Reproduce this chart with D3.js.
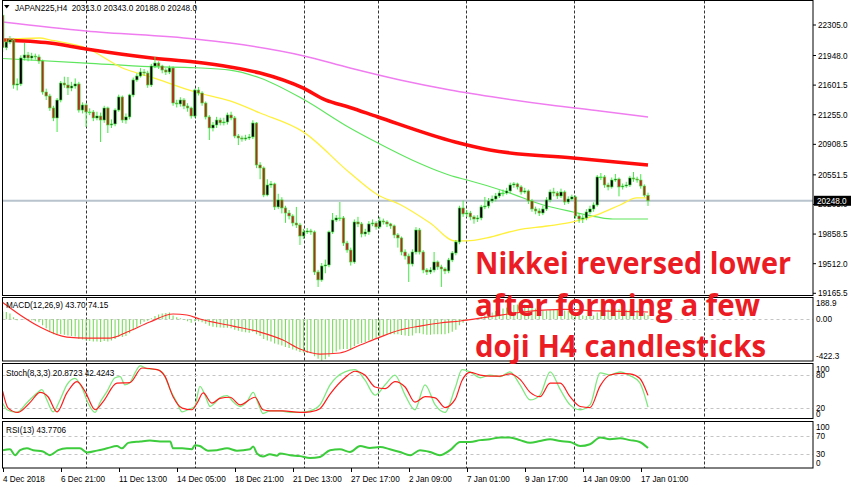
<!DOCTYPE html>
<html><head><meta charset="utf-8">
<script src="https://cdn.jsdelivr.net/npm/d3@7"></script>
<style>body{margin:0;background:#fff;}svg{display:block;}</style>
</head><body><svg id="c" width="852" height="485"></svg>
<script>
// ---------- DATA ----------
const symbolTitle = "JAPAN225,H4";
const lastOHLC = ["20313.0","20343.0","20188.0","20248.0"];
const closes=[22040,22106,22130,21603,21615,21919,21954,21919,21942,21931,
21884,21521,21474,21334,21217,21427,21626,21603,21568,21591,
21615,21310,21369,21287,21287,21217,21240,21193,21334,21135,
21147,21310,21463,21193,21229,21486,21662,21708,21755,21743,
21603,21825,21860,21825,21778,21755,21802,21392,21381,21427,
21357,21334,21240,21544,21509,21392,21229,21100,21135,21193,
21160,21170,21252,21217,21006,20983,20971,20983,20995,21158,
20667,20632,20316,20433,20445,20176,20258,20164,20105,20070,
19988,19965,19836,19883,19895,19883,19415,19322,19485,19497,
19883,20023,20047,20047,19754,19672,19532,20000,19977,19860,
19883,19977,19988,19942,20012,20000,19977,19954,19848,19813,
19649,19602,19509,19649,19906,19649,19438,19415,19438,19532,
19474,19450,19427,19555,19637,19766,20164,20094,20105,20059,
20035,20047,20176,20187,20246,20269,20304,20339,20339,20363,
20433,20445,20410,20351,20363,20246,20152,20129,20105,20152,
20258,20351,20339,20304,20351,20234,20269,20293,20070,20035,
20047,20117,20152,20199,20527,20527,20433,20410,20491,20503,
20410,20421,20433,20515,20503,20491,20421,20313,20248];
const opens=[22420,22040,22106,22130,21603,21615,21919,21954,21919,21942,
21931,21884,21521,21474,21334,21217,21427,21626,21603,21568,
21591,21615,21310,21369,21287,21287,21217,21240,21193,21334,
21135,21147,21310,21463,21193,21229,21486,21662,21708,21755,
21743,21603,21825,21860,21825,21778,21755,21802,21392,21381,
21427,21357,21334,21240,21544,21509,21392,21229,21100,21135,
21193,21160,21170,21252,21217,21006,20983,20971,20983,20995,
21158,20667,20632,20316,20433,20445,20176,20258,20164,20105,
20070,19988,19965,19836,19883,19895,19883,19415,19322,19485,
19497,19883,20023,20047,20047,19754,19672,19532,20000,19977,
19860,19883,19977,19988,19942,20012,20000,19977,19954,19848,
19813,19649,19602,19509,19649,19906,19649,19438,19415,19438,
19532,19474,19450,19427,19555,19637,19766,20164,20094,20105,
20059,20035,20047,20176,20187,20246,20269,20304,20339,20339,
20363,20433,20445,20410,20351,20363,20246,20152,20129,20105,
20152,20258,20351,20339,20304,20351,20234,20269,20293,20070,
20035,20047,20117,20152,20199,20527,20527,20433,20410,20491,
20503,20410,20421,20433,20515,20503,20491,20421,20313];
const highs=[22480,22150,22176,22150,21680,21950,22094,21990,21980,21970,
21960,21900,21560,21500,21360,21450,21650,21700,21697,21640,
21680,21640,21400,21390,21330,21310,21290,21280,21360,21350,
21200,21330,21490,21480,21270,21500,21690,21740,21800,21790,
21770,21850,21931,21880,21840,21800,21830,21820,21430,21460,
21450,21390,21350,21560,21580,21530,21410,21250,21170,21230,
21220,21220,21280,21290,21240,21030,21010,21020,21030,21190,
21170,20700,20650,20500,20480,20460,20330,20290,20190,20140,
20090,20176,19990,19920,19930,19920,19900,19440,19520,19560,
19900,20105,20080,20234,20070,19780,19700,20030,20060,20000,
19920,20010,20030,20010,20060,20040,20020,19990,19970,19870,
19830,19680,19630,19680,19940,19930,19670,19460,19470,19649,
19550,19500,19470,19580,19660,19790,20190,20250,20140,20130,
20080,20080,20200,20293,20280,20310,20340,20370,20380,20400,
20460,20468,20460,20430,20400,20380,20270,20180,20160,20190,
20290,20380,20400,20360,20390,20370,20300,20320,20310,20100,
20080,20150,20190,20230,20550,20573,20550,20460,20520,20562,
20520,20450,20470,20540,20585,20530,20560,20440,20343];
const lows=[21990,22010,22080,21560,21540,21590,21890,21880,21890,21900,
21850,21490,21427,21300,21180,21053,21400,21570,21486,21530,
21560,21280,21270,21112,21250,21180,21190,20936,21160,21041,
21100,21120,21290,21160,21150,21200,21460,21640,21690,21710,
21570,21580,21800,21790,21740,21720,21730,21360,21340,21350,
21320,21290,21210,21220,21480,21360,21200,20959,21060,21100,
21130,21130,21140,21190,20980,20900,20940,20950,20960,20970,
20630,20500,20290,20300,20400,20140,20150,20100,19990,20030,
19950,19930,19731,19800,19860,19850,19380,19240,19300,19400,
19470,19860,20000,20010,19720,19640,19490,19510,19940,19820,
19830,19850,19950,19910,19920,19970,19940,19920,19810,19700,
19610,19560,19298,19480,19620,19620,19400,19380,19390,19410,
19440,19240,19390,19400,19530,19610,19740,20060,20060,20020,
19980,20000,20020,20150,20160,20220,20240,20280,20300,20320,
20340,20400,20380,20320,20330,20210,20120,20090,20070,20080,
20130,20230,20300,20270,20280,20200,20210,20250,20040,19990,
19988,20020,20090,20120,20180,20490,20400,20370,20390,20470,
20300,20380,20400,20410,20470,20460,20390,20290,20188];

// moving averages: [bar index, price]
const maSlowViolet=[[0,22340],[23,22235],[53,22141],[62.7,22094],[82.8,21946],[95.8,21802],[109.6,21662],[123.4,21545],[137.2,21451],[151,21369],[164.8,21299],[178,21229]];
const maRed=[[0,22130],[13,22094],[23,22024],[40.6,21922],[53,21872],[62.7,21814],[71,21743],[82.8,21568],[89,21428],[95.8,21340],[103.5,21229],[124.8,20936],[134.4,20842],[157.3,20749],[178,20667]];
const maYellow=[[0,22130],[10.3,22153],[13,22130],[23,22036],[33.7,21790],[40.6,21700],[53,21521],[62.7,21416],[71,21275],[82.8,21057],[95.8,20573],[103.5,20316],[109.6,20205],[117.9,19988],[124.8,19778],[128.1,19778],[133.6,19813],[141.9,19906],[150.2,19953],[157.3,20000],[163.9,20082],[170.3,20199],[174.9,20281],[178,20281]];
const maGreen=[[0,21913],[23,21860],[40.6,21817],[53,21805],[62.7,21778],[71,21685],[82.8,21439],[95.8,21100],[103.5,20924],[112.9,20726],[124.8,20527],[128.1,20491],[139.1,20351],[149.1,20199],[157.3,20117],[163.9,20059],[168.3,20035],[178,20035]];

const macdHist=[80,75,60,20,-10,0,5,0,-10,-20,
-30,-60,-90,-120,-150,-160,-150,-155,-165,-170,
-175,-200,-205,-215,-220,-225,-225,-230,-220,-225,
-215,-200,-180,-180,-170,-140,-110,-80,-50,-25,
-15,10,35,50,60,65,70,40,20,10,
-5,-20,-35,-20,-20,-30,-45,-65,-75,-80,
-82,-85,-85,-90,-105,-115,-125,-130,-135,-125,
-150,-170,-200,-215,-225,-245,-255,-265,-280,-290,
-305,-315,-330,-335,-340,-345,-375,-400,-420,-405,
-380,-350,-325,-305,-300,-300,-305,-270,-250,-240,
-230,-215,-200,-190,-175,-165,-155,-150,-150,-150,
-160,-165,-170,-165,-140,-140,-150,-155,-155,-150,
-150,-150,-150,-140,-125,-105,-60,-35,-15,-5,
0,10,25,40,55,70,85,100,110,120,
135,145,150,150,150,140,125,110,95,90,
90,95,95,95,95,90,85,85,65,50,
40,35,35,38,70,90,95,100,105,110,
105,100,98,100,100,95,85,65,43.7];
const macdSignal=[[0,170],[4.8,44],[10.3,-78],[17.7,-180],[23.3,-190],[29.6,-190],[34.3,-129],[40.6,-27],[47,54],[50.8,44],[54.4,3],[63.5,-68],[71,-129],[77.3,-210],[82,-301],[87.5,-352],[93,-341],[98.6,-260],[104.1,-180],[109.6,-108],[115.1,-68],[120.6,-37],[126.2,-17],[135,30],[145,80],[155,100],[165,85],[178,74.15]];

const stochK=[[0,28],[1.2,16],[3.9,11],[6.7,29],[9.5,47],[10.8,53],[12.2,34],[13.9,12],[15.8,34],[17.7,62],[19.9,74],[21.9,56],[23.5,29],[25.5,11],[26.8,29],[28.8,50],[31,75],[32.4,77],[33.7,62],[35.1,66],[36.5,84],[37.9,97],[39.8,92],[42.6,90],[44.2,84],[46.2,53],[48.1,29],[49.5,12],[51.1,16],[53,22],[54.4,59],[55.8,43],[57.2,22],[58.6,29],[59.9,38],[61.9,42],[63.5,31],[65.5,22],[67.4,31],[69.1,48],[70.4,29],[71.8,9],[73.7,14],[76.5,14],[79.3,11],[82,11],[84.8,14],[87.5,25],[90.3,62],[94.4,86],[97.2,90],[99.9,71],[102.7,43],[105.5,62],[108.2,80],[111,43],[113.7,16],[116.5,62],[119.3,25],[122,11],[124.8,56],[126.7,90],[128.9,86],[131.7,75],[134.4,80],[137.2,77],[139.9,86],[142.7,62],[145.5,34],[148.2,43],[151,86],[153.8,53],[156.5,25],[159.3,16],[162,25],[164.8,84],[167.5,80],[170.3,86],[173,79],[175.7,66],[178,20.87]];
const stochD=[[0,50],[1.5,19],[4.2,11],[7.5,29],[10.3,48],[12.5,40],[15,12],[17.7,47],[20.5,68],[22.7,50],[25.5,16],[27.7,31],[31.5,65],[35.1,66],[38.4,93],[42.6,90],[44.8,77],[47,40],[49.5,19],[52.2,16],[53.6,28],[55.3,47],[57.7,28],[59.9,37],[62.7,39],[65.5,25],[69.6,39],[71.8,16],[73.7,14],[77.3,14],[82,11],[84.8,12],[87.5,18],[90.3,45],[94.4,75],[97.2,87],[99.9,80],[102.7,58],[105.5,55],[108.2,68],[111,58],[113.7,30],[116.5,40],[119.3,38],[122,20],[124.8,35],[126.7,70],[128.9,85],[131.7,80],[134.4,78],[137.2,78],[139.9,82],[142.7,72],[145.5,48],[148.2,40],[151,65],[153.8,65],[156.5,40],[159.3,22],[162,20],[164.8,60],[167.5,80],[170.3,83],[173,82],[175.7,74],[178,42.42]];
const rsi=[[0,39],[2,41],[3.4,28],[4.8,39],[6.7,43],[8.4,39],[11.1,36],[13,28],[15.3,39],[17.7,43],[21.3,43],[23.3,34],[26,38],[28.8,43],[31.5,48],[32.9,43],[34.6,55],[37.9,58],[40.6,60],[43.4,58],[46.2,58],[47,43],[49.5,43],[52.2,41],[53,50],[54.4,48],[56.6,38],[59.1,39],[61.9,43],[64.6,38],[68.2,41],[69.1,47],[70.2,31],[71.8,25],[73.7,30],[75.7,27],[76.5,32],[79.3,28],[82,26],[84.8,22],[87.5,24],[90.3,39],[93,41],[95.8,35],[98.6,48],[101.3,44],[104.1,46],[106.8,41],[109.6,35],[112.4,28],[115.1,39],[117.9,35],[120.6,28],[123.4,39],[126.2,57],[128.9,57],[131.7,61],[134.4,63],[137.2,67],[139.9,67],[142.7,61],[145.5,55],[148.2,59],[151,63],[153.8,59],[156.5,57],[159.3,48],[162,52],[164.8,67],[167.5,63],[170.3,65],[173,61],[175.7,57],[178,43.77]];

const priceTicks=[22305.0,21948.0,21601.5,21255.0,20908.5,20551.5,20205.0,19858.5,19512.0,19165.5];
const currentPrice=20248.0;
const macdTicks=[188.9,0,-422.3];
const stochTicks=[100,80,20,0];
const rsiTicks=[100,70,30,0];
const timeTickBars=[0,16,32,48,64,80,96,112,128,144,160,176];
const timeTickLabels=["4 Dec 2018","6 Dec 21:00","11 Dec 13:00","14 Dec 05:00","18 Dec 21:00","21 Dec 13:00","27 Dec 17:00","2 Jan 09:00","7 Jan 01:00","9 Jan 17:00","14 Jan 09:00","17 Jan 01:00"];
const gridBars=[23,53,83,103.6,127.7,157.6,193.5];
const noteLines=["Nikkei reversed lower","after forming a few","doji H4 candlesticks"];

// ---------- LAYOUT ----------
const L=2.5, R=813;
const P={main:[0.5,295.5],macd:[297.5,361],stoch:[363.5,418.5],rsi:[421.5,468]};
const FONT="'Liberation Sans', Arial, sans-serif";
const svg=d3.select('#c');
const x=d3.scaleLinear().domain([0,178]).range([2.7,648]);
const yP=d3.scaleLinear().domain([19165.5,22305]).range([293.3,25]);
const yM=d3.scaleLinear().domain([-422.3,188.9]).range([361,300.7]);
const yS=d3.scaleLinear().domain([0,100]).range([418.4,364.2]);
const yR=d3.scaleLinear().domain([0,100]).range([468,422.3]);

svg.append('rect').attr('width',852).attr('height',485).attr('fill','#fff');
const defs=svg.append('defs');
Object.entries(P).forEach(([k,[t,b]])=>{
  defs.append('clipPath').attr('id','clip-'+k).append('rect').attr('x',L).attr('y',t).attr('width',R-L).attr('height',b-t);
});

// grid (vertical dashed)
const grid=svg.append('g');
Object.entries(P).forEach(([k,[t,b]])=>{
  grid.selectAll(null).data(gridBars).enter().append('line')
    .attr('x1',d=>Math.round(x(d))+0.5).attr('x2',d=>Math.round(x(d))+0.5)
    .attr('y1',t).attr('y2',b).attr('stroke','#333').attr('stroke-dasharray','3,2').attr('stroke-width',1);
});
// level lines
function level(y,v){svg.append('line').attr('x1',L).attr('x2',R).attr('y1',Math.round(y(v))+0.5).attr('y2',Math.round(y(v))+0.5)
  .attr('stroke','#c4c4c4').attr('stroke-dasharray','3,3');}
level(yM,0); level(yS,80); level(yS,20); level(yR,70); level(yR,30);

// ---------- MAIN PANEL ----------
const gMain=svg.append('g').attr('clip-path','url(#clip-main)');
gMain.append('line').attr('x1',L).attr('x2',R).attr('y1',yP(currentPrice)).attr('y2',yP(currentPrice))
  .attr('stroke','#b9c3cd').attr('stroke-width',2);
const line=(ys)=>d3.line().x(d=>x(d[0])).y(d=>ys(d[1])).curve(d3.curveMonotoneX);
gMain.append('path').datum(maSlowViolet).attr('d',line(yP)).attr('fill','none').attr('stroke','#f07df0').attr('stroke-width',1.5);
gMain.append('path').datum(maGreen).attr('d',line(yP)).attr('fill','none').attr('stroke','#5ee65e').attr('stroke-width',1.2);
gMain.append('path').datum(maYellow).attr('d',line(yP)).attr('fill','none').attr('stroke','#fff03c').attr('stroke-width',1.3);
gMain.append('path').datum(maRed).attr('d',line(yP)).attr('fill','none').attr('stroke','#ff0000').attr('stroke-width',3.6).attr('stroke-opacity',0.95);

const bars=closes.map((c,i)=>({i,o:opens[i],h:highs[i],l:lows[i],c}));
const gc=gMain.append('g');
gc.selectAll('line.w').data(bars).enter().append('line')
  .attr('x1',d=>x(d.i)).attr('x2',d=>x(d.i)).attr('y1',d=>yP(d.h)).attr('y2',d=>yP(d.l))
  .attr('stroke','#44e844').attr('stroke-width',1);
gc.selectAll('rect.b').data(bars).enter().append('rect')
  .attr('x',d=>x(d.i)-1.3).attr('width',2.6)
  .attr('y',d=>yP(Math.max(d.o,d.c))).attr('height',d=>Math.max(0.8,Math.abs(yP(d.o)-yP(d.c))))
  .attr('fill',d=>d.c>d.o?'#000':(d.c<d.o?'#b0301c':'#44e844'))
  .attr('stroke','#44e844').attr('stroke-width',0.6);

// header
svg.append('path').attr('d','M4,5 L9.5,5 L6.75,8.5 Z').attr('fill','#000');
svg.append('text').attr('x',15).attr('y',11).attr('font-family',FONT).attr('font-size',8.2).attr('fill','#000')
  .text(symbolTitle+'  '+lastOHLC.join(' ')).attr('xml:space','preserve');

// ---------- MACD ----------
const gM=svg.append('g').attr('clip-path','url(#clip-macd)');
gM.selectAll('line').data(macdHist).enter().append('line')
  .attr('x1',(d,i)=>x(i)).attr('x2',(d,i)=>x(i))
  .attr('y1',yM(0)).attr('y2',d=>yM(d)).attr('stroke','#7add5a').attr('stroke-width',1.1);
gM.append('path').datum(macdSignal).attr('d',line(yM)).attr('fill','none').attr('stroke','#ff2a2a').attr('stroke-width',1.2);
svg.append('text').attr('x',6).attr('y',308).attr('font-family',FONT).attr('font-size',8.2).text('MACD(12,26,9) 43.70 74.15');

// ---------- STOCH ----------
const gS=svg.append('g').attr('clip-path','url(#clip-stoch)');
gS.append('path').datum(stochK).attr('d',line(yS)).attr('fill','none').attr('stroke','#7fe87f').attr('stroke-width',1.3);
gS.append('path').datum(stochD).attr('d',line(yS)).attr('fill','none').attr('stroke','#ff1a1a').attr('stroke-width',1.2);
svg.append('text').attr('x',6).attr('y',376).attr('font-family',FONT).attr('font-size',8.2).text('Stoch(8,3,3) 20.8723 42.4243');

// ---------- RSI ----------
const gR=svg.append('g').attr('clip-path','url(#clip-rsi)');
gR.append('path').datum(rsi).attr('d',line(yR)).attr('fill','none').attr('stroke','#3ccc3c').attr('stroke-width',2);
svg.append('text').attr('x',6).attr('y',433).attr('font-family',FONT).attr('font-size',8.2).text('RSI(13) 43.7706');

// panel borders
Object.values(P).forEach(([t,b])=>{
  svg.append('rect').attr('x',L).attr('y',t).attr('width',R-L).attr('height',b-t).attr('fill','none').attr('stroke','#000').attr('stroke-width',1);
});

// ---------- RIGHT AXES ----------
const ax=svg.append('g').attr('font-family',FONT).attr('font-size',8.2).attr('fill','#000');
priceTicks.forEach(v=>{
  const y=yP(v);
  ax.append('line').attr('x1',R).attr('x2',R+3).attr('y1',y).attr('y2',y).attr('stroke','#000');
  ax.append('text').attr('x',R+5).attr('y',y+3).text(v.toFixed(1));
});
const cy=yP(currentPrice);
ax.append('rect').attr('x',R+1).attr('y',cy-5).attr('width',37).attr('height',10).attr('fill','#000');
ax.append('text').attr('x',R+4).attr('y',cy+3).attr('fill','#fff').text(currentPrice.toFixed(1));
function subAxis(ticks,ys,[t,b],fmt){
  ticks.forEach(v=>{
    const y=Math.max(t+5.5,Math.min(b-5,ys(v)));
    ax.append('text').attr('x',R+3).attr('y',y+3).text(fmt(v));
  });
}
subAxis(macdTicks,yM,P.macd,v=>v===0?'0.00':v.toFixed(1));
subAxis(stochTicks,yS,P.stoch,v=>String(v));
subAxis(rsiTicks,yR,P.rsi,v=>String(v));

// ---------- TIME AXIS ----------
timeTickBars.forEach((b,k)=>{
  const xx=Math.round(x(b))+0.5;
  ax.append('line').attr('x1',xx).attr('x2',xx).attr('y1',468).attr('y2',472).attr('stroke','#000');
  ax.append('text').attr('x',xx-0.5).attr('y',481.5).text(timeTickLabels[k]);
});

// ---------- NOTE ----------
const widths=[316,285,291];
const baselines=[274,316,357];
noteLines.forEach((s,k)=>{
  svg.append('text').attr('x',475).attr('y',baselines[k]).attr('font-family',"'Open Sans', 'DejaVu Sans', sans-serif")
    .attr('font-weight',700).attr('font-size',30).attr('fill','#ec1c24')
    .attr('textLength',widths[k]).attr('lengthAdjust','spacingAndGlyphs').text(s);
});
</script></body></html>
